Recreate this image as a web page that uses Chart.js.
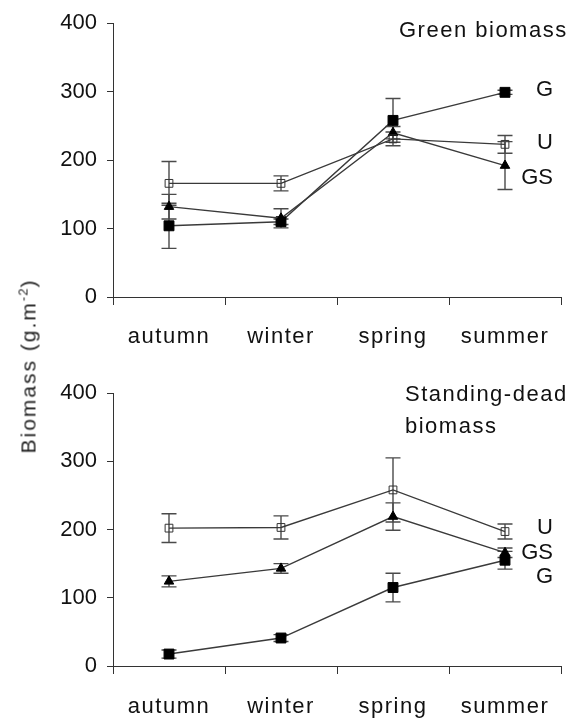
<!DOCTYPE html>
<html><head><meta charset="utf-8">
<script src="https://cdn.jsdelivr.net/npm/chart.js@4"></script>
<style>
html,body{margin:0;padding:0;background:#fff;}
#wrap{position:relative;width:569px;height:718px;overflow:hidden;background:#fff;}
canvas{position:absolute;left:0;}
#c1{top:0;} #c2{top:360px;}
#ylab{position:absolute;font:21px "Liberation Sans",Arial,sans-serif;font-weight:normal;letter-spacing:2px;white-space:nowrap;color:#222;left:26px;top:366px;transform:translate(-50%,-50%) rotate(-90deg);line-height:24px;}
#ylab sup{font-size:13px;letter-spacing:1px;}
</style></head><body>
<div id="wrap">
<canvas id="c1" width="569" height="360"></canvas>
<canvas id="c2" width="569" height="358"></canvas>
<div id="ylab">Biomass (g.m<sup>-2</sup>)</div>
</div>
<script>
// ---- data ----
const seasons = ['autumn','winter','spring','summer'];
const yTicks = [0,100,200,300,400];

const greenG    = [104,110,258,299];
const greenGErr = [33,4,32,3];
const greenU    = [166,166,231,223];
const greenUErr = [32,11,10,13];
const greenGS   = [132,115,240,192];
const greenGSErr= [18,14,9,35];

const deadG     = [17.5,41,115,155];
const deadGErr  = [6,5,21,13];
const deadU     = [202,203,258,197];
const deadUErr  = [21,17,47,11];
const deadGS    = [124,143,219,166];
const deadGSErr = [8,7,20,7];

const greenLabels = ['G','U','GS'];
const greenLabelAt = [302,225,174];
const deadLabels = ['U','GS','G'];
const deadLabelAt = [202,165,130];

// ---- plugins ----
const errorBars = {
  id:'errorBars',
  beforeDatasetsDraw(chart){
    const ctx = chart.ctx, ys = chart.scales.y;
    ctx.save();
    ctx.strokeStyle = '#4a4a4a'; ctx.lineWidth = 1.4;
    chart.data.datasets.forEach((ds,i)=>{
      const meta = chart.getDatasetMeta(i);
      meta.data.forEach((pt,j)=>{
        const v = ds.data[j], e = ds.errors[j];
        const yt = ys.getPixelForValue(v+e), yb = ys.getPixelForValue(v-e);
        ctx.beginPath();
        ctx.moveTo(pt.x, yt); ctx.lineTo(pt.x, yb);
        ctx.moveTo(pt.x-7.5, yt); ctx.lineTo(pt.x+7.5, yt);
        ctx.moveTo(pt.x-7.5, yb); ctx.lineTo(pt.x+7.5, yb);
        ctx.stroke();
      });
    });
    ctx.restore();
  }
};
const spacing = {
  id:'spacing',
  afterLayout(chart){
    const s = chart.scales.x;
    if (s && !s._patched){
      const orig = s.drawLabels.bind(s);
      s.drawLabels = function(area){ const c=this.ctx; c.save(); c.letterSpacing='1.5px'; orig(area); c.restore(); };
      s._patched = true;
    }
  }
};
const annot = {
  id:'annot',
  afterDraw(chart, args, opts){
    const ctx = chart.ctx, ys = chart.scales.y;
    ctx.save();
    ctx.fillStyle = '#111';
    ctx.font = '22px "Liberation Sans", Arial, sans-serif';
    ctx.textBaseline = 'middle';
    ctx.textAlign = 'left';
    ctx.letterSpacing = '1.5px';
    (opts.titles||[]).forEach(t=>ctx.fillText(t.text, t.x, t.y));
    ctx.letterSpacing = '0px';
    ctx.textAlign = 'right';
    (opts.names||[]).forEach((n,k)=>ctx.fillText(n, opts.nameX, ys.getPixelForValue(opts.nameAt[k])));
    ctx.restore();
  }
};

function makeDatasets(g,gE,u,uE,gs,gsE){
  const line = {borderColor:'#3a3a3a', borderWidth:1.4, tension:0, fill:false};
  return [
    Object.assign({label:'U', data:u, errors:uE, pointStyle:'rect', pointRadius:5.5, pointBackgroundColor:'rgba(255,255,255,0)', pointBorderColor:'#333', pointBorderWidth:1}, line),
    Object.assign({label:'GS', data:gs, errors:gsE, pointStyle:'triangle', pointRadius:5.5, pointBackgroundColor:'#000', pointBorderColor:'#000', pointBorderWidth:1}, line),
    Object.assign({label:'G', data:g, errors:gE, pointStyle:'rect', pointRadius:7, pointBackgroundColor:'#000', pointBorderColor:'#000', pointBorderWidth:1}, line)
  ];
}

function makeChart(id, datasets, padTop, xH, xPad, annotOpts){
  const font = {family:'"Liberation Sans", Arial, sans-serif', size:22};
  return new Chart(document.getElementById(id), {
    type:'line',
    data:{labels:seasons, datasets},
    options:{
      responsive:false, animation:false, devicePixelRatio:1,
      layout:{padding:{top:padTop, right:2, left:0, bottom:0}},
      plugins:{legend:{display:false}, tooltip:{enabled:false}, annot:annotOpts},
      scales:{
        x:{type:'category', offset:true,
           grid:{display:true, offset:true, drawOnChartArea:false, drawTicks:true, tickLength:8, color:'#333', lineWidth:1},
           border:{display:true, color:'#333', width:1},
           ticks:{font, color:'#111', padding:xPad, maxRotation:0, minRotation:0, autoSkip:false},
           afterFit(s){ s.height = xH; }},
        y:{min:0, max:400,
           afterBuildTicks(s){ s.ticks = yTicks.map(v=>({value:v})); },
           grid:{drawOnChartArea:false, drawTicks:true, tickLength:6, color:'#333', lineWidth:1},
           border:{display:true, color:'#333', width:1},
           ticks:{font, color:'#111', padding:10},
           afterFit(s){ s.width = 113; }}
      }
    },
    plugins:[errorBars, spacing, annot]
  });
}

const c1 = makeChart('c1', makeDatasets(greenG,greenGErr,greenU,greenUErr,greenGS,greenGSErr), 23, 63, 19,
  {titles:[{text:'Green biomass', x:399, y:31}], names:greenLabels, nameAt:greenLabelAt, nameX:553});
const c2 = makeChart('c2', makeDatasets(deadG,deadGErr,deadU,deadUErr,deadGS,deadGSErr), 33, 52, 20,
  {titles:[{text:'Standing-dead', x:405, y:35},{text:'biomass', x:405, y:67}], names:deadLabels, nameAt:deadLabelAt, nameX:553});
c1.draw(); c2.draw();
</script>
</body></html>
